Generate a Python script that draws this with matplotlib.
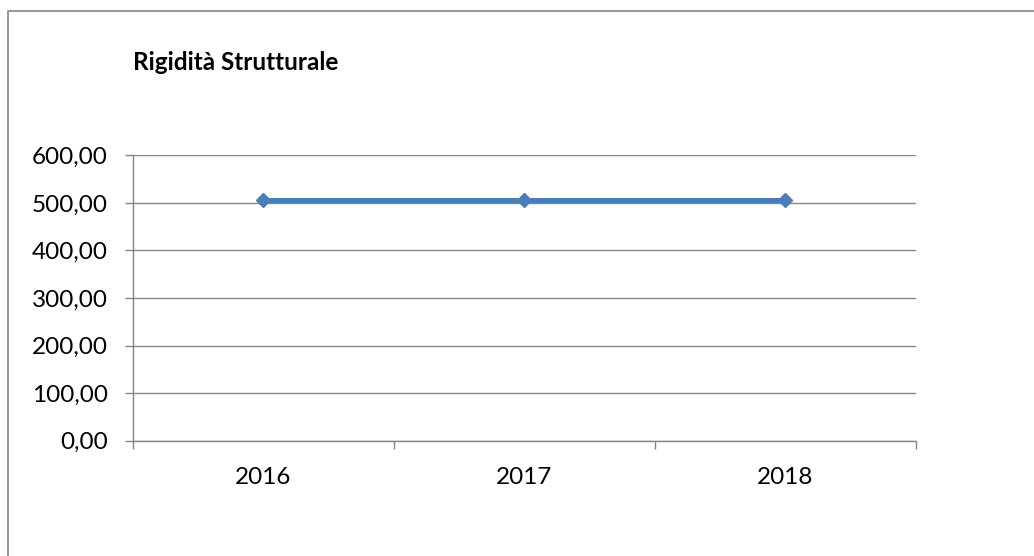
import matplotlib
matplotlib.use('Agg')
import matplotlib.pyplot as plt
from matplotlib.patches import Rectangle
from matplotlib.ticker import FuncFormatter, FixedLocator

# data
years = ['2016', '2017', '2018']
rigidita = [505.0, 505.0, 505.0]
yticks = [0, 100, 200, 300, 400, 500, 600]

plt.rcParams['font.family'] = ['Lato', 'DejaVu Sans']

fig = plt.figure(figsize=(10.34, 5.56), dpi=100)
fig.patch.set_facecolor('white')

# outer chart border (cropped on right/bottom like the original)
fig.patches.append(Rectangle((0.0077, -0.1), 1.2, 1.1 - 0.0198, transform=fig.transFigure,
                             fill=False, edgecolor='#868686', linewidth=1.2))

ax = fig.add_axes([0.1283, 0.2074, 0.7576, 0.5133])

x = range(len(years))
ax.plot(x, rigidita, color='#4A7EBB', linewidth=3.6, marker='D', markersize=7.5,
        markerfacecolor='#4A7EBB', markeredgecolor='#4A7EBB', zorder=3)

ax.set_xlim(-0.5, len(years) - 0.5)
ax.set_ylim(0, 600)
ax.set_yticks(yticks)
ax.yaxis.set_major_formatter(FuncFormatter(lambda v, p: f'{v:.2f}'.replace('.', ',')))
ax.grid(axis='y', color='#868686', linewidth=1.0)
ax.set_axisbelow(True)

ax.set_xticks(list(x))
ax.set_xticklabels(years)
ax.xaxis.set_minor_locator(FixedLocator([-0.5, 0.5, 1.5, 2.5]))
ax.tick_params(axis='x', which='major', length=0, pad=19, labelsize=17.5)
ax.tick_params(axis='x', which='minor', length=6, width=1.0, color='#868686')
ax.tick_params(axis='y', length=6, width=1.0, color='#868686', pad=12, labelsize=17.5)

for s in ['top', 'right']:
    ax.spines[s].set_visible(False)
for s in ['left', 'bottom']:
    ax.spines[s].set_color('#868686')
    ax.spines[s].set_linewidth(1.0)

fig.text(0.1286, 0.888, 'Rigidità Strutturale', fontsize=17.5, fontweight='bold',
         ha='left', va='center')

fig.savefig('out.png', dpi=100, facecolor='white')
